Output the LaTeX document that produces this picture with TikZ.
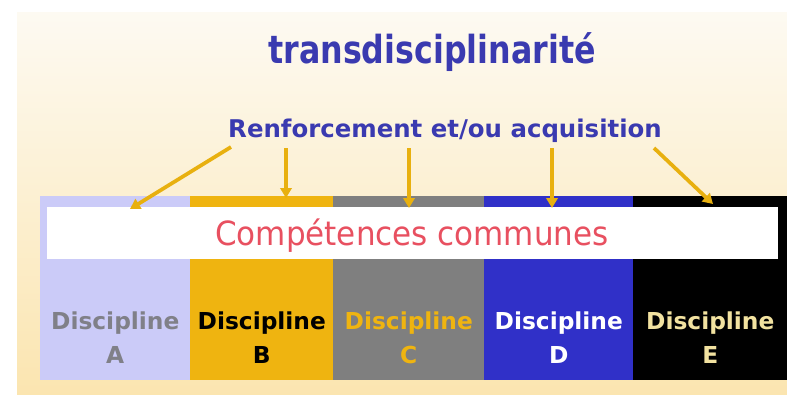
\documentclass[tikz,border=0pt]{standalone}
\usepackage{fontspec}
\setmainfont{DejaVu Sans}
\newfontfamily\titlefont[FakeStretch=0.82]{DejaVu Sans}
\newfontfamily\commfont[FakeStretch=0.93]{DejaVu Sans}
\usetikzlibrary{positioning, arrows.meta}
\definecolor{bgTop}{RGB}{253,250,242}
\definecolor{bgBottom}{RGB}{251,229,176}
\definecolor{titleBlue}{RGB}{58,58,176}
\definecolor{arrowOrange}{RGB}{232,176,15}
\definecolor{colA}{RGB}{203,203,248}
\definecolor{colB}{RGB}{239,180,16}
\definecolor{colC}{RGB}{127,127,127}
\definecolor{colD}{RGB}{48,48,200}
\definecolor{colE}{RGB}{0,0,0}
\definecolor{txtA}{RGB}{128,128,136}
\definecolor{txtB}{RGB}{0,0,0}
\definecolor{txtC}{RGB}{239,180,16}
\definecolor{txtD}{RGB}{255,255,255}
\definecolor{txtE}{RGB}{242,226,160}
\definecolor{commRed}{RGB}{232,80,96}

\begin{document}
\begin{tikzpicture}[x=0.75pt, y=-0.75pt]
        \tikzstyle{col} = [rectangle, draw=none, inner sep=0pt, minimum height=138pt]
        \tikzstyle{disc} = [inner sep=0pt, align=center, font=\fontsize{17.5}{26}\selectfont\bfseries]
        \tikzstyle{arr} = [draw=arrowOrange, line width=2.8pt, -{Triangle[width=8.5pt, length=7.5pt]}]
        \useasboundingbox (0,0) rectangle (787,394);

        % background
        \shade[top color=bgTop, bottom color=bgBottom] (17,12) rectangle (787,394);

        \node[anchor=base, text=titleBlue, font=\titlefont\bfseries\fontsize{29}{34}\selectfont] (title) at (432,63) {transdisciplinarité};
        \node[anchor=base, text=titleBlue, font=\bfseries\fontsize{18.3}{22}\selectfont] (renf) at (445,137) {Renforcement et/ou acquisition};

        % disciplines
        \foreach \name/\xl/\w in {A/40/150, B/190/143, C/333/151, D/484/149, E/633/154} {
          \node[col, fill=col\name, minimum width=\w*0.75pt, anchor=north west] (col\name) at (\xl,196) {};
          \node[disc, text=txt\name, anchor=north] (lab\name) at (col\name.north |- 0,311) {Discipline\\\name};
        }

        % common band
        \node[rectangle, fill=white, inner sep=0pt, minimum width=548.25pt, minimum height=39pt, anchor=north west] (band) at (47,207) {};
        \node[anchor=base, inner sep=0pt, text=commRed, font=\commfont\fontsize{25}{30}\selectfont] (comp) at (412,245) {Compétences communes};

        % arrows
        \coordinate (a1) at (231,147);
        \coordinate (a2) at (286,148);
        \coordinate (a3) at (409,148);
        \coordinate (a4) at (552,148);
        \coordinate (a5) at (654,148);
        \coordinate (t1) at (130,209);
        \coordinate (t2) at (286,198);
        \coordinate (t3) at (409,208);
        \coordinate (t4) at (552,208);
        \coordinate (t5) at (713,204);
        \foreach \i in {1,...,5}
          \draw[arr] (a\i) -- (t\i);
      \end{tikzpicture}
\end{document}
